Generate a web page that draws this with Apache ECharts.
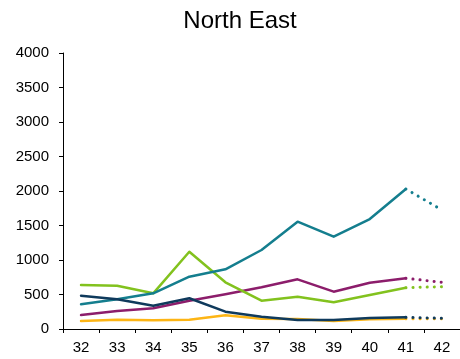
<!DOCTYPE html>
<html>
<head>
<meta charset="utf-8">
<script src="https://cdn.jsdelivr.net/npm/echarts@6/dist/echarts.min.js"></script>
<style>html,body{margin:0;padding:0;background:#fff}#c{width:460px;height:359px}</style>
</head>
<body>
<div id="c"></div>
<script>
const categories = ['32','33','34','35','36','37','38','39','40','41','42'];
const yTicks = [0, 500, 1000, 1500, 2000, 2500, 3000, 3500, 4000];
// Values for weeks 32..41 (solid) and 42 (dotted, provisional)
const teal   = [358, 430, 517, 758, 865, 1145, 1555, 1338, 1594, 2029, 1725];
const green  = [638, 628, 517, 1120, 677, 410, 468, 387, 493, 599, 613];
const purple = [203, 261, 300, 410, 503, 604, 720, 541, 671, 735, 677];
const navy   = [483, 430, 338, 445, 251, 178, 130, 130, 159, 169, 155];
const yellow = [116, 135, 126, 135, 198, 150, 145, 116, 140, 150, 150];

const seriesDefs = [
  {name: 'yellow', data: yellow, color: '#FDB515'},
  {name: 'purple', data: purple, color: '#8C1D6B'},
  {name: 'green',  data: green,  color: '#82C21E'},
  {name: 'teal',   data: teal,   color: '#147E8E'},
  {name: 'navy',   data: navy,   color: '#0F3A5C'}
];

const last = categories.length - 1;
const series = [];
seriesDefs.forEach(d => {
  series.push({
    type: 'line', name: d.name, symbol: 'none', animation: false,
    data: d.data.map((v, i) => i < last ? v : null),
    lineStyle: {color: d.color, width: 2.5, cap: 'round', join: 'round'},
    itemStyle: {color: d.color}
  });
  series.push({
    type: 'line', name: d.name + '-proj', symbol: 'none', animation: false,
    data: d.data.map((v, i) => i >= last - 1 ? v : null),
    lineStyle: {color: d.color, width: 3, type: [0.1, 7], cap: 'round'},
    itemStyle: {color: d.color}
  });
});

const chart = echarts.init(document.getElementById('c'), null, {renderer: 'canvas'});
chart.setOption({
  backgroundColor: '#fff',
  title: {
    text: 'North East', left: 235, top: 4, textAlign: 'center',
    textStyle: {fontFamily: 'Liberation Sans, Arial', fontSize: 24, fontWeight: 'normal', color: '#000'}
  },
  grid: {left: 63, top: 53, bottom: 30, width: 398},
  xAxis: {
    type: 'category', data: categories, boundaryGap: true,
    axisLine: {lineStyle: {color: '#000', width: 1}},
    axisTick: {show: true, length: 4, inside: false, lineStyle: {color: '#000'}},
    axisLabel: {fontFamily: 'Liberation Sans, Arial', fontSize: 15, color: '#000', margin: 11}
  },
  yAxis: {
    type: 'value', min: yTicks[0], max: yTicks[yTicks.length - 1], interval: 500,
    axisLine: {show: true, lineStyle: {color: '#000', width: 1}},
    axisTick: {show: true, length: 4, lineStyle: {color: '#000'}},
    splitLine: {show: false},
    axisLabel: {fontFamily: 'Liberation Sans, Arial', fontSize: 15, color: '#000', margin: 14,
      formatter: v => String(v)}
  },
  series: series
});
</script>
</body>
</html>
